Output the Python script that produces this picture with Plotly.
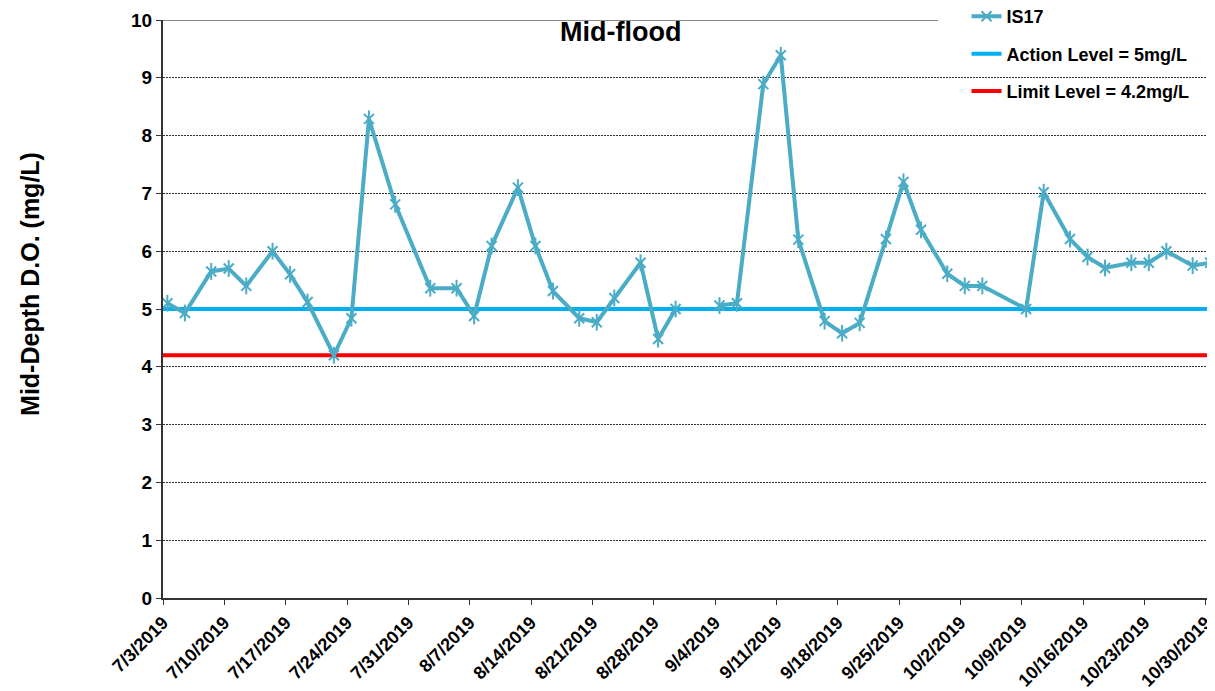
import plotly.graph_objects as go
import pandas as pd

# sampling dates and mid-depth dissolved oxygen (mg/L) at IS17, mid-flood
dates = ["2019-07-03", "2019-07-05", "2019-07-08", "2019-07-10", "2019-07-12",
         "2019-07-15", "2019-07-17", "2019-07-19", "2019-07-22", "2019-07-24",
         "2019-07-26", "2019-07-29", "2019-08-02", "2019-08-05", "2019-08-07",
         "2019-08-09", "2019-08-12", "2019-08-14", "2019-08-16", "2019-08-19",
         "2019-08-21", "2019-08-23", "2019-08-26", "2019-08-28", "2019-08-30",
         "2019-09-02", "2019-09-04", "2019-09-06", "2019-09-09", "2019-09-11",
         "2019-09-13", "2019-09-16", "2019-09-18", "2019-09-20", "2019-09-23",
         "2019-09-25", "2019-09-27", "2019-09-30", "2019-10-02", "2019-10-04",
         "2019-10-09", "2019-10-11", "2019-10-14", "2019-10-16", "2019-10-18",
         "2019-10-21", "2019-10-23", "2019-10-25", "2019-10-28", "2019-10-30"]
is17 = [5.1, 4.93, 5.65, 5.7, 5.4, 6.0, 5.6, 5.12, 4.2, 4.84,
        8.29, 6.81, 5.36, 5.36, 4.88, 6.09, 7.1, 6.09, 5.31, 4.84,
        4.77, 5.19, 5.8, 4.48, 5.0, None, 5.06, 5.1, 8.89, 9.39,
        6.2, 4.79, 4.58, 4.76, 6.21, 7.2, 6.37, 5.61, 5.4, 5.4,
        5.0, 7.02, 6.21, 5.9, 5.71, 5.8, 5.8, 6.0, 5.75, 5.8]

action_level = 5
limit_level = 4.2

tick_dates = pd.date_range("2019-07-03", "2019-10-30", freq="7D")
tick_labels = [f"{d.month}/{d.day}/{d.year}" for d in tick_dates]

x_start = pd.Timestamp("2019-07-03")
x_end = pd.Timestamp("2019-10-30 17:00")

# excel puts each day's point in the middle of the day
x_pts = pd.to_datetime(dates) + pd.Timedelta(hours=12)

FONT = "Liberation Sans, Arial, sans-serif"
SERIES_COLOR = "#4BACC6"

fig = go.Figure()

fig.add_trace(go.Scatter(
    x=[x_start, x_end], y=[action_level, action_level],
    mode="lines", name="Action Level = 5mg/L",
    line=dict(color="#00B0F0", width=4),
    legendrank=2, legendgroup="a", hoverinfo="skip",
))
fig.add_trace(go.Scatter(
    x=[x_start, x_end], y=[limit_level, limit_level],
    mode="lines", name="Limit Level = 4.2mg/L",
    line=dict(color="#FF0000", width=4),
    legendrank=3, legendgroup="b", hoverinfo="skip",
))
fig.add_trace(go.Scatter(
    x=x_pts, y=is17,
    mode="lines+markers", name="IS17",
    line=dict(color=SERIES_COLOR, width=4),
    marker=dict(symbol="x-thin-open", size=10, color=SERIES_COLOR,
                line=dict(color=SERIES_COLOR, width=2)),
    connectgaps=False, legendrank=1, legendgroup="c",
))
# vertical stroke to turn the x into excel's star marker
fig.add_trace(go.Scatter(
    x=x_pts, y=is17, mode="markers", showlegend=False, hoverinfo="skip",
    marker=dict(symbol="line-ns-open", size=12, color=SERIES_COLOR,
                line=dict(color=SERIES_COLOR, width=2)),
))

# white patch behind the legend so the grid stops there, like excel
fig.add_shape(type="rect", xref="paper", yref="y", x0=0.739, x1=1.01, y0=8.6, y1=10.05,
              fillcolor="white", line_width=0, layer="between")
fig.add_shape(type="line", xref="paper", yref="y", x0=0, x1=0.739, y0=10, y1=10,
              line=dict(color="#8c8c8c", width=2), layer="between")

fig.add_annotation(text="<b>Mid-flood</b>", xref="paper", yref="paper",
                   x=0.4357, y=0.979, xanchor="center", yanchor="middle",
                   showarrow=False,
                   font=dict(family=FONT, size=27, color="black"))
fig.add_annotation(text="<b>Mid-Depth D.O. (mg/L)</b>", xref="paper", yref="paper",
                   x=-0.127, y=0.543, xanchor="center", yanchor="middle",
                   textangle=-90, showarrow=False,
                   font=dict(family=FONT, size=25, color="black"))

# the page body has an 8px margin, so the figure is shrunk by that much
fig.update_layout(
    width=1207, height=683,
    margin=dict(l=155, r=3, t=12, b=93, autoexpand=False),
    paper_bgcolor="white", plot_bgcolor="white",
    font=dict(family=FONT, color="black"),
    showlegend=True,
    legend=dict(x=0.766, y=1.038, xanchor="left", yanchor="top",
                bgcolor="rgba(0,0,0,0)", tracegroupgap=11,
                font=dict(family=FONT, size=18, color="black", weight="bold")),
)

fig.update_xaxes(
    type="date", range=[x_start, x_end], automargin=False,
    tickvals=tick_dates, ticktext=tick_labels, tickangle=-45,
    tickfont=dict(family=FONT, size=18, color="black", weight="bold"),
    ticks="outside", ticklen=5, tickcolor="#333",
    showline=True, linecolor="#333", linewidth=2,
    showgrid=False, zeroline=False,
)
fig.update_yaxes(
    range=[0, 10], dtick=1, automargin=False,
    tickfont=dict(family=FONT, size=19, color="black", weight="bold"),
    ticks="outside", ticklen=5, tickcolor="#333",
    showline=True, linecolor="#333", linewidth=2,
    showgrid=True, gridcolor="#333", gridwidth=1, griddash="2px,1px",
    zeroline=False,
)

fig.write_html("out.html")
